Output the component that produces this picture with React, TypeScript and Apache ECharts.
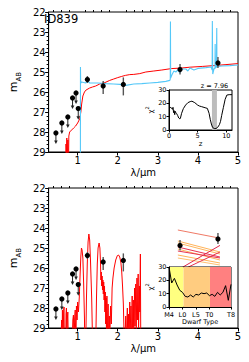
import React, { useEffect, useRef } from 'react';
import * as echarts from 'echarts';

// ---------- data ----------
const xMajorTicks = [1, 2, 3, 4, 5];
const xMinorTicks = [0.4, 0.6, 0.8, 1.2, 1.4, 1.6, 1.8, 2.2, 2.4, 2.6, 2.8, 3.2, 3.4, 3.6, 3.8, 4.2, 4.4, 4.6, 4.8];

const photLambda = [0.458, 0.606, 0.755, 0.873, 0.96, 1.015, 1.243, 1.637, 2.14, 3.554, 4.5];
const photMag = [28.05, 27.55, 27.25, 26.3, 26.05, 26.83, 25.38, 25.7, 25.62, 24.88, 24.55];
const photErrBright = [0, 0, 0, 0, 0, 0, 0.18, 0.25, 0.35, 0.28, 0.3];
const photErrFaint = [0, 0, 0, 0, 0, 0, 0.17, 0.4, 0.55, 0.25, 0.25];
const photUpperLimit = [1, 1, 1, 1, 1, 1, 0, 0, 0, 0, 0];

const topRedLambda = [0.70, 0.71, 0.72, 0.73, 0.745, 0.755, 0.77, 0.78, 0.8, 0.85, 0.9, 0.95, 1.0, 1.05, 1.08, 1.1, 1.13, 1.17, 1.21, 1.3, 1.37, 1.45, 1.55, 1.68, 1.8, 1.9, 2.0, 2.1, 2.19, 2.3, 2.4, 2.55, 2.7, 2.9, 3.1, 3.335, 3.6, 3.8, 4.12, 4.4, 4.7, 5.0];
const topRedMag = [30, 28.6, 29.2, 28.3, 29.5, 28.4, 30, 28.2, 28.0, 27.9, 27.8, 27.7, 27.55, 27.35, 27.0, 26.6, 26.2, 26.0, 25.9, 25.8, 25.75, 25.7, 25.6, 25.53, 25.42, 25.35, 25.28, 25.22, 25.17, 25.13, 25.12, 25.08, 25.0, 24.95, 24.9, 24.83, 24.8, 24.76, 24.72, 24.68, 24.63, 24.58];

const topCyanLambda = [1.0, 1.068, 1.07, 1.076, 1.1, 1.2, 1.25, 1.3, 1.5, 1.7, 1.9, 2.05, 2.2, 2.4, 2.6, 2.8, 3.0, 3.2, 3.3, 3.31, 3.315, 3.32, 3.35, 3.4, 3.45, 3.5, 3.55, 3.6, 3.7, 3.75, 3.8, 3.9, 4.0, 4.2, 4.33, 4.355, 4.36, 4.37, 4.4, 4.425, 4.43, 4.435, 4.46, 4.47, 4.475, 4.5, 4.6, 4.8, 5.0];
const topCyanMag = [35, 35, 24.75, 25.55, 25.5, 25.55, 25.45, 25.55, 25.55, 25.58, 25.6, 25.62, 25.67, 25.6, 25.58, 25.55, 25.52, 25.47, 25.42, 25.35, 22.47, 25.3, 25.15, 24.95, 25.0, 24.9, 25.05, 24.85, 24.85, 24.95, 24.8, 24.9, 24.82, 24.78, 24.75, 24.9, 22.45, 25.1, 24.85, 24.8, 23.6, 24.8, 24.75, 22.8, 24.75, 24.72, 24.7, 24.68, 24.65];

const bdLambda = [0.58, 0.60, 0.61, 0.62, 0.635, 0.65, 0.66, 0.67, 0.70, 0.71, 0.72, 0.73, 0.745, 0.755, 0.77, 0.86, 0.88, 0.895, 0.91, 0.925, 0.94, 0.955, 0.97, 0.985, 1.0, 1.02, 1.04, 1.06, 1.08, 1.095, 1.11, 1.13, 1.15, 1.17, 1.18, 1.2, 1.22, 1.24, 1.26, 1.28, 1.30, 1.32, 1.35, 1.37, 1.38, 1.45, 1.47, 1.49, 1.51, 1.535, 1.555, 1.57, 1.58, 1.59, 1.6, 1.61, 1.62, 1.63, 1.64, 1.65, 1.66, 1.67, 1.68, 1.69, 1.70, 1.71, 1.72, 1.73, 1.74, 1.75, 1.76, 1.77, 1.79, 1.80, 1.82, 1.84, 1.86, 1.88, 1.91, 1.95, 1.99, 2.02, 2.05, 2.08, 2.10, 2.12, 2.14, 2.16, 2.17, 2.2, 2.21, 2.24, 2.25, 2.27, 2.28, 2.3, 2.31, 2.33, 2.34, 2.36, 2.37, 2.39, 2.40, 2.42, 2.43, 2.45, 2.46, 2.48, 2.49, 2.51, 2.52, 2.54, 2.55, 2.565, 2.575];
const bdMag = [30, 28.6, 30, 28.1, 30, 28.2, 27.95, 30, 30, 28.3, 28.0, 30, 28.5, 28.2, 30, 30, 28.6, 28.35, 30, 28.5, 28.1, 30, 27.9, 28.6, 27.7, 28.2, 27.5, 26.4, 25.4, 25.0, 25.1, 25.5, 26.8, 28.5, 30, 30, 27.5, 25.8, 24.7, 24.3, 24.6, 25.6, 27.5, 29.5, 30, 30, 27.5, 25.8, 25.0, 24.75, 25.0, 25.7, 26.6, 26.2, 26.9, 26.4, 27.1, 26.6, 27.3, 26.7, 27.6, 26.9, 28.2, 27.2, 28.8, 27.5, 29.5, 27.4, 28.5, 30, 27.8, 30, 28.4, 30, 27.9, 28.8, 27.0, 26.5, 26.0, 25.6, 25.38, 25.35, 25.45, 25.75, 26.2, 26.9, 27.8, 29.5, 30, 28.4, 30, 28.0, 30, 28.3, 30, 27.7, 29.2, 27.9, 30, 27.4, 29.5, 27.6, 30, 27.0, 28.9, 26.8, 29.3, 26.5, 28.6, 26.3, 29.0, 26.9, 28.2, 25.3, 30];

// brown-dwarf model colours (3.6 / 4.5 µm)
const modelLambda = [3.5, 4.55];
const modelLeftMag = [24.1, 24.65, 24.75, 24.95, 25.05, 25.15, 25.35, 25.5, 26.1, 26.2];
const modelRightMag = [24.51, 25.2, 25.3, 25.45, 25.6, 25.5, 25.75, 25.85, 24.87, 25.2];
const modelColor = ['#f07a66', '#ffb45a', '#ffb45a', '#e8334f', '#ffb45a', '#e8334f', '#ffb45a', '#ffc070', '#e0264a', '#e8334f'];

// photo-z chi2
const zGrid = [0, 0.2, 0.4, 0.6, 0.7, 0.8, 0.9, 1.0, 1.1, 1.2, 1.3, 1.5, 1.7, 1.9, 2.0, 2.2, 2.5, 2.9, 3.3, 3.7, 4.0, 4.5, 5.0, 5.3, 5.7, 6.3, 6.7, 7.0, 7.2, 7.4, 7.6, 7.9, 8.2, 8.5, 8.8, 9.0, 9.2, 9.5, 9.8, 10.1, 10.5, 11];
const chiZ = [17.5, 17, 16.7, 15.5, 17, 13, 14.5, 11.5, 14, 13, 12.5, 11, 9, 8.3, 9, 12.5, 16, 18.7, 20.5, 21.3, 21.6, 20.5, 18.7, 18, 17.5, 16.7, 16.2, 12.5, 8, 4.5, 2, 1.1, 1.1, 2, 4, 6.5, 11, 17, 23, 26.2, 26.5, 26.5];
const zBestRange = [7.5, 8.37];
const zBest = 7.96;

// dwarf-type chi2
const dwarfTypes = ['M4', 'M5', 'M6', 'M7', 'M8', 'L0', 'L1', 'L2', 'L3', 'L4', 'L5', 'L6', 'L7', 'L8', 'L9', 'T0', 'T1', 'T2', 'T3', 'T4', 'T5', 'T6', 'T7', 'T8'];
const chiDwarf = [30, 18, 21.5, 16.5, 12.5, 11, 8, 7.5, 9, 7.5, 9.5, 9, 10.5, 10, 10.5, 8.5, 9.5, 8, 11, 9, 11, 16, 5, 17];
const dwarfTickIdx = [0, 5, 10, 15, 23];
const dwarfBands = [[0, 5.4], [5.4, 15.2], [15.2, 23]];
const dwarfBandColors = ['#ffff80', '#ffcc80', '#ff8080'];

const sourceName = 'ID839';

const FONT = 'DejaVu Sans';

function mainX(grid: number) {
  return [
    {
      type: 'value', gridIndex: grid, min: 0.276, max: 5,
      axisLine: { show: true, lineStyle: { color: '#000', width: 1 } },
      axisTick: { show: true, customValues: xMajorTicks, length: 3.5, lineStyle: { color: '#000' } },
      axisLabel: { show: true, customValues: xMajorTicks, color: '#000', fontSize: 10, margin: 3, fontFamily: FONT },
      splitLine: { show: false },
      name: 'λ/μm', nameLocation: 'middle', nameGap: 15,
      nameTextStyle: { color: '#000', fontSize: 10, fontFamily: FONT },
    },
    {
      type: 'value', gridIndex: grid, min: 0.276, max: 5,
      axisLine: { show: false },
      axisTick: { show: true, customValues: xMinorTicks, length: 2, lineStyle: { color: '#000' } },
      axisLabel: { show: false },
      splitLine: { show: false },
    },
  ];
}

function mainY(grid: number) {
  return {
    type: 'value', gridIndex: grid, min: 22, max: 29, interval: 1, inverse: true,
    axisLine: { show: true, lineStyle: { color: '#000', width: 1 } },
    axisTick: { show: true, length: 3.5, lineStyle: { color: '#000' } },
    minorTick: { show: true, splitNumber: 5, length: 2, lineStyle: { color: '#000' } },
    axisLabel: { color: '#000', fontSize: 10, margin: 3, fontFamily: FONT },
    splitLine: { show: false },
    name: '{m|m}{s|AB}', nameLocation: 'middle', nameGap: 19, nameRotate: 90,
    nameTextStyle: {
      color: '#000', fontFamily: FONT,
      rich: {
        m: { fontSize: 11, color: '#000', fontFamily: FONT, lineHeight: 14, verticalAlign: 'bottom' },
        s: { fontSize: 7, color: '#000', fontFamily: FONT, lineHeight: 14, verticalAlign: 'bottom', padding: [0, 0, -3, 0] },
      },
    },
  };
}

function insetY(grid: number) {
  return {
    type: 'value', gridIndex: grid, min: 0, max: 30, interval: 10, z: 11,
    axisLine: { show: true, lineStyle: { color: '#000', width: 1 } },
    axisTick: { show: true, length: 2.5, lineStyle: { color: '#000' } },
    axisLabel: { color: '#000', fontSize: 6.5, margin: 2.5, fontFamily: FONT },
    splitLine: { show: false },
    name: '{c|χ}{s|2}', nameLocation: 'middle', nameGap: 12, nameRotate: 90,
    nameTextStyle: {
      color: '#000',
      rich: {
        c: { fontSize: 7, fontFamily: FONT, color: '#000', lineHeight: 10, verticalAlign: 'bottom' },
        s: { fontSize: 5, fontFamily: FONT, color: '#000', lineHeight: 10, verticalAlign: 'top' },
      },
    },
  };
}

export default function App() {
  const ref = useRef<HTMLDivElement>(null);
  useEffect(() => {
    if (!ref.current) return;
    const chart = echarts.init(ref.current, undefined, { renderer: 'svg' });

    const photData = photLambda.map((l, i) => [l, photMag[i], photErrBright[i], photErrFaint[i], photUpperLimit[i]]);
    const photRender = (params: any, api: any) => {
      const lam = api.value(0), mag = api.value(1), eb = api.value(2), ef = api.value(3), lim = api.value(4);
      const p = api.coord([lam, mag]);
      const children: any[] = [];
      if (lim) {
        const q = api.coord([lam, mag + 0.53]);
        children.push({ type: 'line', shape: { x1: p[0], y1: p[1], x2: q[0], y2: q[1] - 2 }, style: { stroke: '#222', lineWidth: 1 } });
        children.push({ type: 'polygon', shape: { points: [[q[0] - 1.8, q[1] - 3], [q[0] + 1.8, q[1] - 3], [q[0], q[1] + 0.5]] }, style: { fill: '#222' } });
      } else {
        const a = api.coord([lam, mag - eb]);
        const b = api.coord([lam, mag + ef]);
        children.push({ type: 'line', shape: { x1: a[0], y1: a[1], x2: b[0], y2: b[1] }, style: { stroke: '#555', lineWidth: 1.4 } });
      }
      children.push({ type: 'circle', shape: { cx: p[0], cy: p[1], r: 2.6 }, style: { fill: '#000' } });
      return { type: 'group', children };
    };

    const modelData = modelLeftMag.map((m, i) => [modelLambda[0], m, modelLambda[1], modelRightMag[i], i]);

    const bandRender = (colors: string[], label?: string) => (params: any, api: any) => {
      const x0 = api.value(0), x1 = api.value(1);
      const a = api.coord([x0, 30]);
      const b = api.coord([x1, 0]);
      const children: any[] = [
        { type: 'rect', shape: { x: a[0], y: a[1], width: b[0] - a[0], height: b[1] - a[1] }, style: { fill: colors[params.dataIndex] } },
      ];
      if (label) {
        children.push({
          type: 'text', x: (a[0] + b[0]) / 2, y: a[1] - 0.5,
          style: { text: label, fill: '#000', fontSize: 6.5, fontFamily: FONT, align: 'center', verticalAlign: 'bottom' },
        });
      }
      return { type: 'group', children };
    };

    const option: any = {
      animation: false,
      textStyle: { fontFamily: FONT },
      graphic: [
        {
          type: 'text', left: 44, top: 13, z: 20,
          style: { text: sourceName, fill: '#000', fontSize: 11.5, fontFamily: FONT },
        },
      ],
      grid: [
        { left: 37, top: 12, width: 201, height: 140, show: true, borderColor: '#000', borderWidth: 1, z: 0 },
        { left: 169, top: 90, width: 63, height: 40, show: true, borderColor: '#000', borderWidth: 1, backgroundColor: '#fff', z: 10 },
        { left: 37, top: 188, width: 201, height: 140, show: true, borderColor: '#000', borderWidth: 1, z: 0 },
        { left: 169, top: 267, width: 62, height: 40, show: true, borderColor: '#000', borderWidth: 1, backgroundColor: '#fff', z: 10 },
      ],
      xAxis: [
        ...mainX(0),
        {
          type: 'value', gridIndex: 1, min: 0, max: 11, interval: 5, z: 11,
          axisLine: { show: true, lineStyle: { color: '#000', width: 1 } },
          axisTick: { show: true, length: 2.5, lineStyle: { color: '#000' } },
          axisLabel: { color: '#000', fontSize: 6.5, margin: 2.5, fontFamily: FONT },
          splitLine: { show: false },
          name: 'z', nameLocation: 'middle', nameGap: 10,
          nameTextStyle: { color: '#000', fontSize: 7, fontFamily: FONT },
        },
        ...mainX(2),
        {
          type: 'value', gridIndex: 3, min: 0, max: 23, z: 11,
          axisLine: { show: true, lineStyle: { color: '#000', width: 1 } },
          axisTick: { show: true, customValues: dwarfTickIdx, length: 2.5, lineStyle: { color: '#000' } },
          axisLabel: {
            customValues: dwarfTickIdx, color: '#000', fontSize: 6.5, margin: 4, fontFamily: FONT,
            formatter: (v: number) => dwarfTypes[Math.round(v)],
          },
          splitLine: { show: false },
          name: 'Dwarf Type', nameLocation: 'middle', nameGap: 11,
          nameTextStyle: { color: '#000', fontSize: 6.5, fontFamily: FONT },
        },
      ],
      yAxis: [mainY(0), insetY(1), mainY(2), insetY(3)],
      series: [
        // top panel
        {
          type: 'line', xAxisIndex: 0, yAxisIndex: 0, z: 2, symbol: 'none',
          data: topRedLambda.map((l, i) => [l, topRedMag[i]]),
          lineStyle: { color: '#ff0000', width: 1 },
        },
        {
          type: 'line', xAxisIndex: 0, yAxisIndex: 0, z: 2, symbol: 'none',
          data: topCyanLambda.map((l, i) => [l, topCyanMag[i]]),
          lineStyle: { color: '#55c8f8', width: 1.1 },
        },
        {
          type: 'custom', xAxisIndex: 0, yAxisIndex: 0, z: 4,
          data: photData, renderItem: photRender, encode: { x: 0, y: 1 },
        },
        // top inset
        {
          type: 'custom', xAxisIndex: 2, yAxisIndex: 1, z: 11,
          data: [zBestRange], renderItem: bandRender(['#bdbdbd'], `z = ${zBest}`), encode: { x: [0, 1] },
        },
        {
          type: 'line', xAxisIndex: 2, yAxisIndex: 1, z: 12, symbol: 'none',
          data: zGrid.map((z, i) => [z, chiZ[i]]),
          lineStyle: { color: '#000', width: 1 },
        },
        // bottom panel
        {
          type: 'line', xAxisIndex: 3, yAxisIndex: 2, z: 2, symbol: 'none',
          data: bdLambda.map((l, i) => [l, bdMag[i]]),
          lineStyle: { color: '#ff0000', width: 1 },
        },
        {
          type: 'custom', xAxisIndex: 3, yAxisIndex: 2, z: 3,
          data: modelData, encode: { x: [0, 2], y: [1, 3] },
          renderItem: (params: any, api: any) => {
            const a = api.coord([api.value(0), api.value(1)]);
            const b = api.coord([api.value(2), api.value(3)]);
            return { type: 'line', shape: { x1: a[0], y1: a[1], x2: b[0], y2: b[1] }, style: { stroke: modelColor[params.dataIndex], lineWidth: 1 } };
          },
        },
        {
          type: 'custom', xAxisIndex: 3, yAxisIndex: 2, z: 4,
          data: photData, renderItem: photRender, encode: { x: 0, y: 1 },
        },
        // bottom inset
        {
          type: 'custom', xAxisIndex: 5, yAxisIndex: 3, z: 11,
          data: dwarfBands, renderItem: bandRender(dwarfBandColors), encode: { x: [0, 1] },
        },
        {
          type: 'line', xAxisIndex: 5, yAxisIndex: 3, z: 12, symbol: 'none',
          data: chiDwarf.map((c, i) => [i, c]),
          lineStyle: { color: '#000', width: 1 },
        },
      ],
    };
    chart.setOption(option);
    return () => chart.dispose();
  }, []);
  return <div ref={ref} style={{ position: 'fixed', left: 0, top: 0, width: 249, height: 362, background: '#fff' }} />;
}
